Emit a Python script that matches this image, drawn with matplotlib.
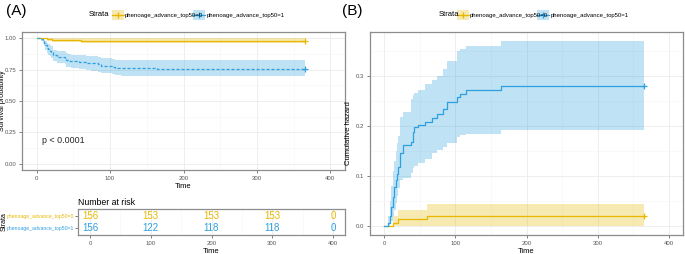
import numpy as np
import matplotlib
matplotlib.use("Agg")
import matplotlib.pyplot as plt
from matplotlib.patches import Rectangle
from matplotlib.lines import Line2D

plt.rcParams['font.family'] = ['Liberation Sans', 'DejaVu Sans']

# colours of the two strata
col0 = '#E7B800'
col1 = '#2E9FDF'
labels = ['phenoage_advance_top50=0', 'phenoage_advance_top50=1']
end_time = 365

# group 0: Kaplan-Meier (panel A)
t0 = [14, 21, 60]
surv0 = [0.994, 0.987, 0.981]
surv0_lo = [0.981, 0.970, 0.962]
surv0_hi = [1.0, 1.0, 1.0]

# group 1: Kaplan-Meier (panel A)
t1 = [6, 8, 10, 12, 14, 16, 18, 20, 22, 27, 38, 40, 42, 47, 58, 67, 74, 83, 88, 102, 107, 115, 164]
surv1 = [0.994, 0.981, 0.962, 0.944, 0.925, 0.913, 0.901, 0.888, 0.865, 0.851, 0.846, 0.829,
         0.821, 0.815, 0.812, 0.805, 0.799, 0.791, 0.780, 0.772, 0.767, 0.761, 0.756]
surv1_lo = [0.982, 0.960, 0.935, 0.908, 0.886, 0.870, 0.857, 0.842, 0.815, 0.800, 0.793, 0.775,
            0.768, 0.760, 0.757, 0.750, 0.743, 0.735, 0.724, 0.715, 0.710, 0.703, 0.698]
surv1_hi = [1.0, 1.0, 0.990, 0.980, 0.965, 0.955, 0.945, 0.935, 0.910, 0.900, 0.895, 0.880,
            0.875, 0.870, 0.865, 0.860, 0.855, 0.850, 0.840, 0.835, 0.830, 0.826, 0.823]

# cumulative hazard (panel B)
haz0_t = [13, 20, 60]
haz0 = [0.0064, 0.0128, 0.0193]
haz0_lo = [0.0, 0.0, 0.0]
haz0_hi = [0.019, 0.031, 0.043]

haz1_t = t1
haz1 = [0.006, 0.019, 0.038, 0.058, 0.078, 0.091, 0.104, 0.118, 0.145, 0.161, 0.168, 0.188,
        0.198, 0.203, 0.208, 0.217, 0.224, 0.235, 0.248, 0.258, 0.265, 0.273, 0.281]
haz1_lo = [0.0, 0.003, 0.01, 0.02, 0.031, 0.045, 0.06, 0.075, 0.091, 0.095, 0.105, 0.115,
           0.12, 0.125, 0.133, 0.145, 0.152, 0.158, 0.165, 0.178, 0.181, 0.185, 0.193]
haz1_hi = [0.02, 0.05, 0.08, 0.11, 0.13, 0.15, 0.165, 0.18, 0.218, 0.228, 0.255, 0.262,
           0.266, 0.273, 0.285, 0.293, 0.301, 0.315, 0.33, 0.35, 0.355, 0.361, 0.371]

# number at risk table
risk_times = [0, 100, 200, 300, 400]
risk0 = [156, 153, 153, 153, 0]
risk1 = [156, 122, 118, 118, 0]

grid_col = '#EBEBEB'
frame_col = '#8C8C8C'
tick_col = '#4D4D4D'


def steps(times, vals, start):
    x = np.r_[0, times, end_time]
    y = np.r_[start, vals, vals[-1]]
    return x, y


def style_ax(ax, major, minor):
    ax.set_facecolor('white')
    ax.set_xticks([0, 100, 200, 300, 400])
    ax.set_xticks([50, 150, 250, 350], minor=True)
    ax.set_yticks(major)
    ax.set_yticks(minor, minor=True)
    ax.grid(True, which='major', color=grid_col, lw=0.6)
    ax.grid(True, which='minor', color='#F5F5F5', lw=0.4)
    ax.set_axisbelow(True)
    for s in ax.spines.values():
        s.set_color(frame_col)
        s.set_linewidth(0.9)
    ax.tick_params(which='major', length=2, width=0.5, color=tick_col,
                   labelsize=4.3, labelcolor='#555555', pad=2)
    ax.tick_params(which='minor', length=0)
    ax.set_xlim(-20, 420)


fig = plt.figure(figsize=(6.85, 2.54), dpi=100)

# ---------------- panel A: survival curves
axA = fig.add_axes([22 / 685, 84 / 254, 323 / 685, 138 / 254])
style_ax(axA, [0, 0.25, 0.5, 0.75, 1.0], [0.125, 0.375, 0.625, 0.875])
axA.set_ylim(-0.05, 1.05)
axA.set_yticklabels(['0.00', '0.25', '0.50', '0.75', '1.00'])

for t, s, lo, hi, c, ls in [(t0, surv0, surv0_lo, surv0_hi, col0, '-'),
                            (t1, surv1, surv1_lo, surv1_hi, col1, (0, (2.5, 1.5)))]:
    x, y = steps(t, s, 1.0)
    _, ylo = steps(t, lo, 1.0)
    _, yhi = steps(t, hi, 1.0)
    axA.fill_between(x, ylo, yhi, step='post', color=c, alpha=0.3, lw=0)
    axA.step(x, y, where='post', color=c, lw=0.9, linestyle=ls)
    axA.plot(end_time, s[-1], marker='+', color=c, ms=4, mew=0.9)

axA.text(7, 0.185, 'p < 0.0001', fontsize=6.4, color='#222222', va='center')
axA.set_xlabel('Time', fontsize=5.5, labelpad=2)
axA.set_ylabel('Survival probability', fontsize=5.2)
axA.yaxis.set_label_coords(-16 / 323, 0.5)

# ---------------- risk table
axR = fig.add_axes([78 / 685, 19 / 254, 267 / 685, 26 / 254])
style_ax(axR, [0, 1], [])
axR.set_ylim(-0.6, 1.6)
axR.set_yticklabels([labels[1], labels[0]], fontsize=3.7)
axR.tick_params(axis='y', pad=1)
axR.get_yticklabels()[0].set_color(col1)
axR.get_yticklabels()[1].set_color(col0)
axR.grid(False, axis='y')
for xt, a, b in zip(risk_times, risk0, risk1):
    axR.text(xt, 1, str(a), color=col0, fontsize=7, ha='center', va='center')
    axR.text(xt, 0, str(b), color=col1, fontsize=7, ha='center', va='center')
axR.set_xlabel('Time', fontsize=5.5, labelpad=2)
axR.set_title('Number at risk', fontsize=6.3, loc='left', pad=3)
fig.text(4.5 / 685, 1 - 222 / 254, 'Strata', rotation=90, fontsize=5,
         ha='center', va='center')

# ---------------- panel B: cumulative hazard
axB = fig.add_axes([370 / 685, 19 / 254, 313 / 685, 203 / 254])
style_ax(axB, [0, 0.1, 0.2, 0.3], [0.05, 0.15, 0.25, 0.35])
axB.set_ylim(-0.0185, 0.3885)
axB.set_yticklabels(['0.0', '0.1', '0.2', '0.3'])
for t, h, lo, hi, c in [(haz0_t, haz0, haz0_lo, haz0_hi, col0),
                        (haz1_t, haz1, haz1_lo, haz1_hi, col1)]:
    x, y = steps(t, h, 0.0)
    _, ylo = steps(t, lo, 0.0)
    _, yhi = steps(t, hi, 0.0)
    axB.fill_between(x, ylo, yhi, step='post', color=c, alpha=0.3, lw=0)
    axB.step(x, y, where='post', color=c, lw=0.9)
    axB.plot(end_time, h[-1], marker='+', color=c, ms=4, mew=0.9)
axB.set_xlabel('Time', fontsize=5.5, labelpad=2)
axB.set_ylabel('Cumulative hazard', fontsize=5.5, labelpad=3)


# ---------------- legends and panel tags
def legend(x_strata, x_keys, x_labels):
    yc = 1 - 15 / 254
    fig.text(x_strata / 685, yc, 'Strata', fontsize=5.5, ha='left', va='center')
    for xk, xl, c, lab in zip(x_keys, x_labels, [col0, col1], labels):
        fig.add_artist(Rectangle((xk / 685, 1 - 20 / 254), 12 / 685, 10 / 254,
                                 transform=fig.transFigure, color=c, alpha=0.3, lw=0))
        fig.add_artist(Line2D([xk / 685, (xk + 12) / 685], [yc, yc],
                              transform=fig.transFigure, color=c, lw=0.9))
        fig.add_artist(Line2D([(xk + 6) / 685], [yc], transform=fig.transFigure,
                              color=c, marker='+', ms=5, mew=0.9, lw=0))
        fig.text(xl / 685, yc, lab, fontsize=4.3, ha='left', va='center')


legend(89, [112, 193], [125, 207])
legend(439, [457, 537], [470, 551])

fig.text(6 / 685, 1 - 11 / 254, '(A)', fontsize=11, ha='left', va='center')
fig.text(342 / 685, 1 - 11 / 254, '(B)', fontsize=11, ha='left', va='center')

fig.savefig('out.png', dpi=100, facecolor='white')
